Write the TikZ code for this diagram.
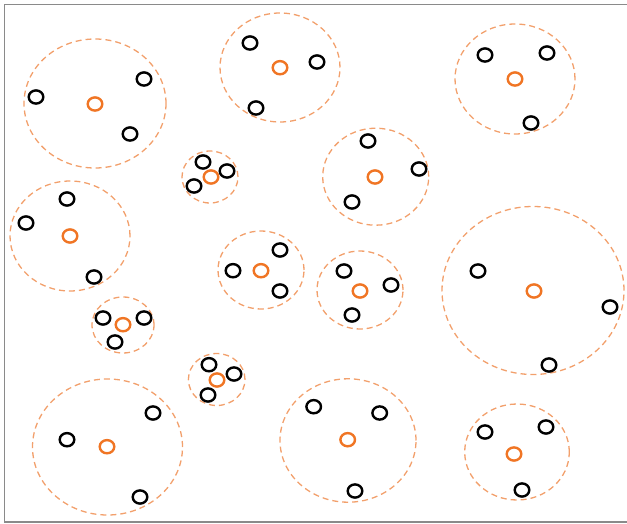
\documentclass[tikz,border=0pt]{standalone}
\usetikzlibrary{shapes.geometric}
\definecolor{ptorange}{HTML}{F07524}
\definecolor{ringorange}{HTML}{F2A06C}
\definecolor{framegray}{HTML}{8A8A8A}
\tikzset{
  pt/.style={ellipse, draw=black, line width=2.4pt, inner sep=0pt, minimum width=14.6pt, minimum height=13.2pt},
  ctr/.style={pt, draw=ptorange},
  ring/.style={ellipse, draw=ringorange, line width=1.3pt, dash pattern=on 6pt off 4pt, inner sep=0pt},
}
\begin{document}
\begin{tikzpicture}[x=1pt, y=-1pt]
\useasboundingbox (0,0) rectangle (627,524);
\draw[framegray, line width=1.6pt] (4.5,4.5) rectangle (627.5,522);
% cluster 1
\node[ring, minimum width=142pt, minimum height=129pt] (r1) at (95,103.5) {};
\node[ctr] (c1) at (95,104) {};
\node[pt] (a1) at (36,97) {};
\node[pt] (b1) at (144,79) {};
\node[pt] (d1) at (130,134) {};
% cluster 2
\node[ring, minimum width=120pt, minimum height=109pt] (r2) at (280,67.5) {};
\node[ctr] (c2) at (280,67.7) {};
\node[pt] (a2) at (250,43) {};
\node[pt] (b2) at (317,62) {};
\node[pt] (d2) at (256,108) {};
% cluster 3
\node[ring, minimum width=120pt, minimum height=110pt] (r3) at (515,79) {};
\node[ctr] (c3) at (515,79) {};
\node[pt] (a3) at (485,55) {};
\node[pt] (b3) at (547,53) {};
\node[pt] (d3) at (531,123) {};
% cluster 4
\node[ring, minimum width=56pt, minimum height=52pt] (r4) at (210,177) {};
\node[ctr] (c4) at (211,177) {};
\node[pt] (a4) at (203,162) {};
\node[pt] (b4) at (227,171) {};
\node[pt] (d4) at (194,186) {};
% cluster 5
\node[ring, minimum width=120pt, minimum height=110pt] (r5) at (70,236) {};
\node[ctr] (c5) at (70,236) {};
\node[pt] (a5) at (67,199) {};
\node[pt] (b5) at (26,223) {};
\node[pt] (d5) at (94,277) {};
% cluster 6
\node[ring, minimum width=106pt, minimum height=97pt] (r6) at (375.7,176.7) {};
\node[ctr] (c6) at (375,177) {};
\node[pt] (a6) at (368,141) {};
\node[pt] (b6) at (419,169) {};
\node[pt] (d6) at (352,202) {};
% cluster 7
\node[ring, minimum width=86pt, minimum height=78pt] (r7) at (261,270) {};
\node[ctr] (c7) at (261,270.7) {};
\node[pt] (a7) at (280,250) {};
\node[pt] (b7) at (233,270.7) {};
\node[pt] (d7) at (280,291) {};
% cluster 8
\node[ring, minimum width=86pt, minimum height=78pt] (r8) at (360,290) {};
\node[ctr] (c8) at (360,291) {};
\node[pt] (a8) at (344,271) {};
\node[pt] (b8) at (391,285) {};
\node[pt] (d8) at (352,315) {};
% cluster 9
\node[ring, minimum width=182pt, minimum height=168pt] (r9) at (533,290.5) {};
\node[ctr] (c9) at (534,291) {};
\node[pt] (a9) at (478,271) {};
\node[pt] (b9) at (610,307) {};
\node[pt] (d9) at (549,365) {};
% cluster 10
\node[ring, minimum width=62pt, minimum height=56pt] (r10) at (123,325) {};
\node[ctr] (c10) at (123,324.7) {};
\node[pt] (a10) at (103,318) {};
\node[pt] (b10) at (144,318) {};
\node[pt] (d10) at (115,342) {};
% cluster 11
\node[ring, minimum width=56.6pt, minimum height=52pt] (r11) at (216.7,379.5) {};
\node[ctr] (c11) at (217,380) {};
\node[pt] (a11) at (209,364.7) {};
\node[pt] (b11) at (234,374) {};
\node[pt] (d11) at (208,395) {};
% cluster 12
\node[ring, minimum width=150pt, minimum height=136pt] (r12) at (107.5,447) {};
\node[ctr] (c12) at (107,446.7) {};
\node[pt] (a12) at (153,413) {};
\node[pt] (b12) at (67,439.7) {};
\node[pt] (d12) at (140,497) {};
% cluster 13
\node[ring, minimum width=136pt, minimum height=123.4pt] (r13) at (348,440.5) {};
\node[ctr] (c13) at (347.7,439.7) {};
\node[pt] (a13) at (313.7,406.7) {};
\node[pt] (b13) at (379.7,413) {};
\node[pt] (d13) at (355,491) {};
% cluster 14
\node[ring, minimum width=104.6pt, minimum height=96pt] (r14) at (517,452) {};
\node[ctr] (c14) at (514,454) {};
\node[pt] (a14) at (485,432) {};
\node[pt] (b14) at (546,427) {};
\node[pt] (d14) at (522,490) {};
\end{tikzpicture}
\end{document}
